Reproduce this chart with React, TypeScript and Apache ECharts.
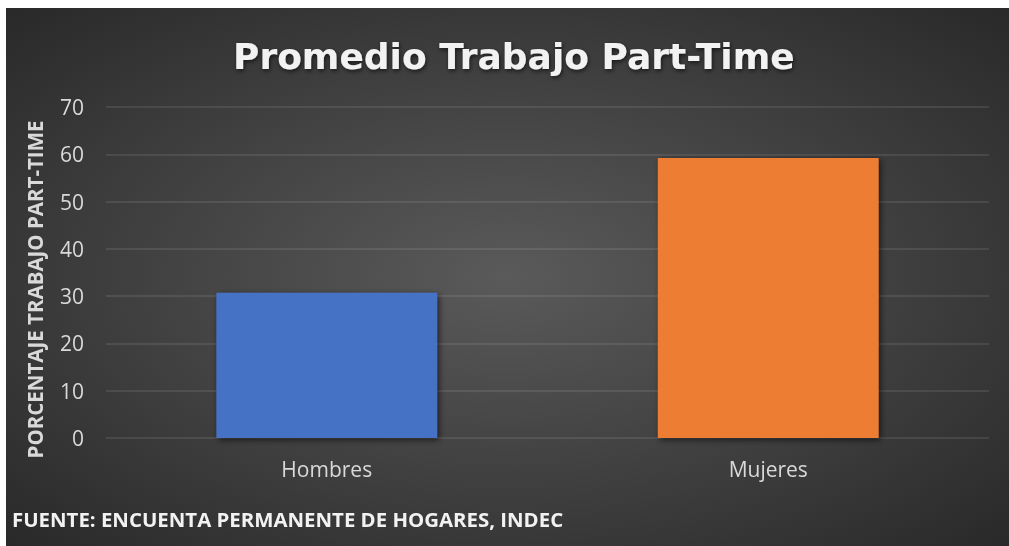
import React, { useEffect, useRef } from "react";
import * as echarts from "echarts";

const categories = ["Hombres", "Mujeres"];
const values = [30.7, 59.2];
const barColors = ["#4472C4", "#ED7D31"];
const yTicks = { min: 0, max: 70, interval: 10 };

export default function App() {
  const ref = useRef<HTMLDivElement>(null);
  useEffect(() => {
    if (!ref.current) return;
    const chart = echarts.init(ref.current, undefined, { renderer: "svg" });
    chart.setOption({
      animation: false,
      backgroundColor: new echarts.graphic.RadialGradient(0.5, 0.5, 0.75, [
        { offset: 0, color: "#5a5a5a" },
        { offset: 1, color: "#262626" },
      ]),
      title: {
        text: "Promedio Trabajo Part-Time",
        left: 222,
        top: 25,
        textStyle: {
          color: "#f2f2f2",
          fontFamily: "DejaVu Sans",
          fontWeight: "bold",
          fontSize: 36,
          textShadowColor: "rgba(0,0,0,0.6)",
          textShadowBlur: 4,
          textShadowOffsetX: 1,
          textShadowOffsetY: 2,
        },
      },
      grid: { left: 100, right: 20, top: 99, bottom: 108 },
      xAxis: {
        type: "category",
        data: categories,
        axisLine: { show: false },
        axisTick: { show: false },
        axisLabel: {
          color: "#d9d9d9",
          fontFamily: "Open Sans",
          fontSize: 21,
          margin: 20,
        },
      },
      yAxis: {
        type: "value",
        min: yTicks.min,
        max: yTicks.max,
        interval: yTicks.interval,
        name: "PORCENTAJE TRABAJO PART-TIME",
        nameLocation: "middle",
        nameRotate: 90,
        nameGap: 61,
        nameTextStyle: {
          color: "#d9d9d9",
          fontFamily: "Open Sans",
          fontWeight: "bold",
          fontSize: 20.5,
          padding: [0, 34, 0, 0],
        },
        axisLine: { show: false },
        axisTick: { show: false },
        axisLabel: {
          color: "#d9d9d9",
          fontFamily: "Open Sans",
          fontSize: 21,
          margin: 22,
        },
        splitLine: { lineStyle: { color: "rgba(255,255,255,0.12)", width: 1.5 } },
      },
      series: [
        {
          type: "bar",
          barWidth: "50%",
          data: values.map((v, i) => ({
            value: v,
            itemStyle: {
              color: barColors[i],
              shadowColor: "rgba(0,0,0,0.6)",
              shadowBlur: 6,
              shadowOffsetX: 2,
              shadowOffsetY: 2,
            },
          })),
        },
      ],
      graphic: [
        {
          type: "text",
          left: 6,
          top: 501,
          style: {
            text: "FUENTE: ENCUENTA PERMANENTE DE HOGARES, INDEC",
            fill: "#f2f2f2",
            font: "bold 20.4px 'Open Sans'",
          },
        },
      ],
    });
    return () => chart.dispose();
  }, []);
  return (
    <div
      ref={ref}
      style={{ position: "fixed", left: 6, top: 8, width: 1003, height: 538 }}
    />
  );
}
